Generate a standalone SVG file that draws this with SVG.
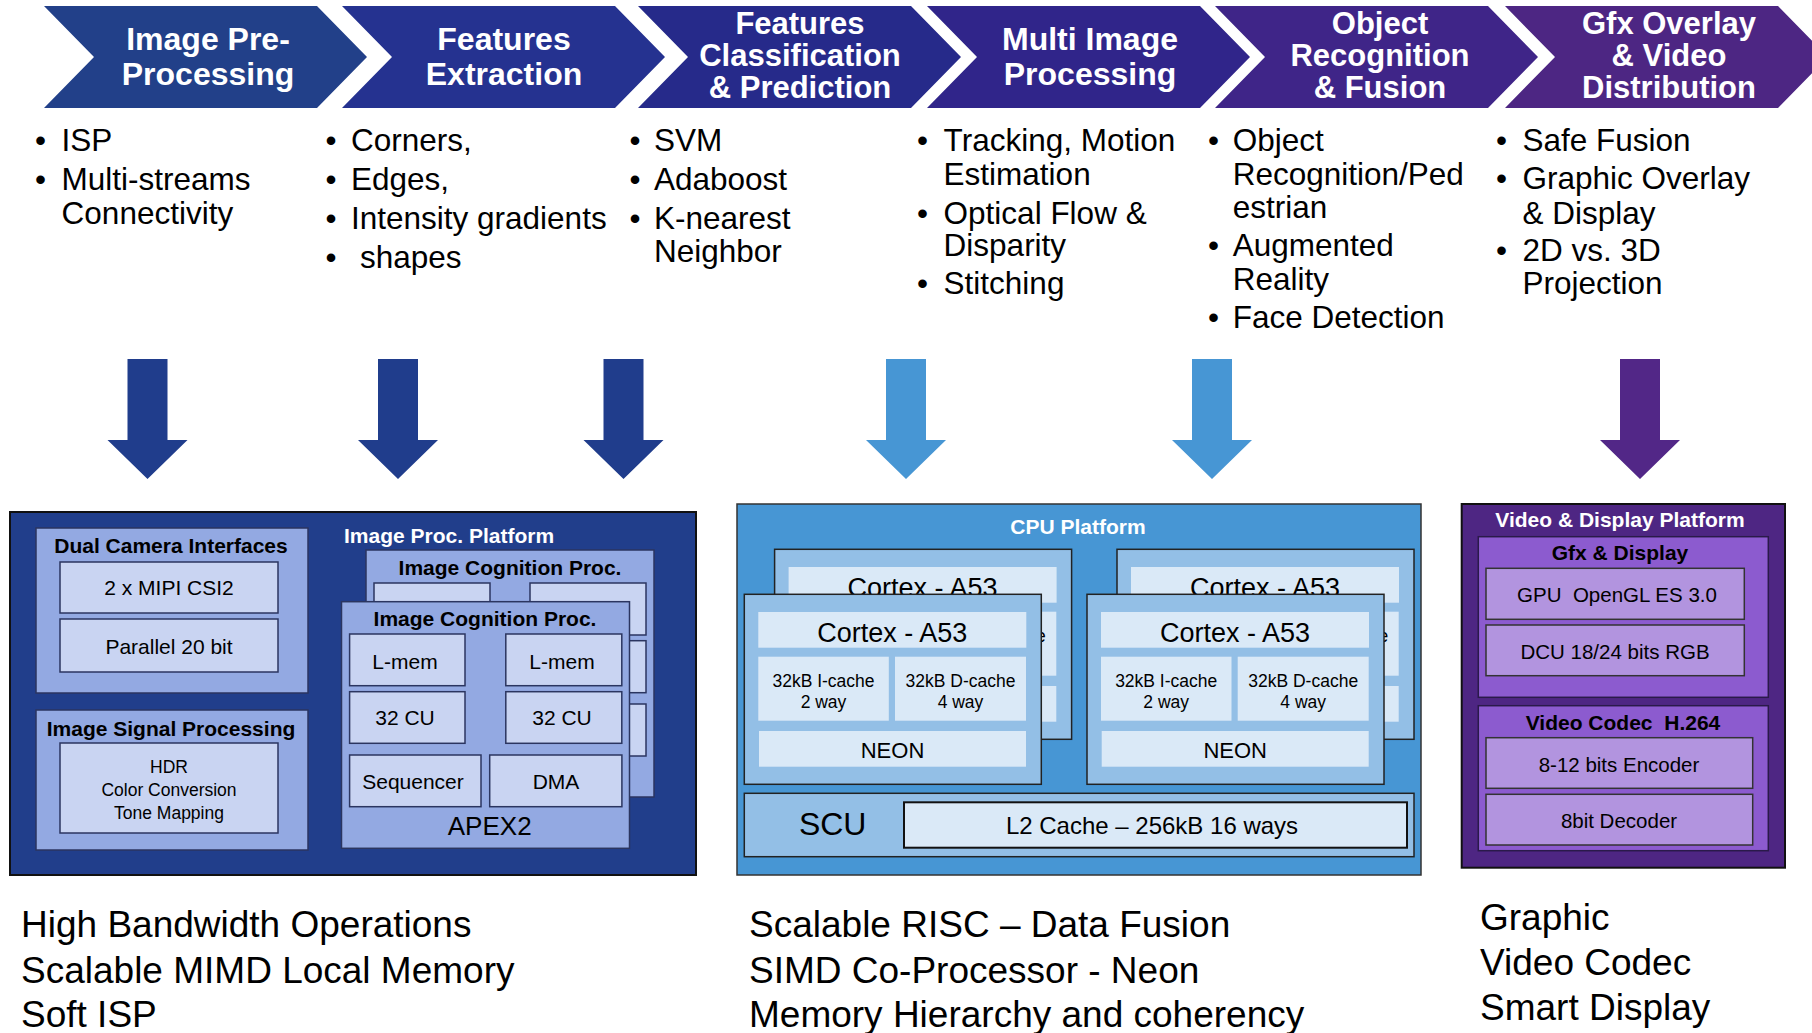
<svg xmlns="http://www.w3.org/2000/svg" width="1812" height="1033" viewBox="0 0 1812 1033">
<style>
text{font-family:"Liberation Sans",Arial,sans-serif;}
.ch{font-size:32px;font-weight:bold;fill:#fff;text-anchor:middle;}
.c3{font-size:31px;}
.bl{font-size:31.5px;fill:#000;}
.bt{font-size:37px;fill:#000;}
.wt{font-size:21px;font-weight:bold;fill:#fff;}
.tt{font-size:21px;font-weight:bold;fill:#000;text-anchor:middle;}
.it{font-size:21px;fill:#000;text-anchor:middle;white-space:pre;}
.sm{font-size:17.5px;fill:#000;text-anchor:middle;}
.pl1{fill:#213E8B;stroke:#111;stroke-width:2;}
.p1{fill:#93A9E2;stroke:#2B3560;stroke-width:1.5;}
.q1{fill:#C9D4F2;stroke:#2B3560;stroke-width:1.5;}
.pl2{fill:#4796D4;stroke:#333;stroke-width:1.5;}
.p2{fill:#93BFE6;stroke:#222;stroke-width:1.5;}
.q2{fill:#DAE9F7;}
.pl3{fill:#4E2683;stroke:#111;stroke-width:2;}
.p3{fill:#8C5BCF;stroke:#2A1A4A;stroke-width:1.5;}
.q3{fill:#B294DF;stroke:#333;stroke-width:1.5;}
</style>
<defs>
<clipPath id="clipBL"><path d="M774,549 H1072 V740 H774 Z M744,594 V785 H1041.3 V594 Z" clip-rule="evenodd"/></clipPath>
<clipPath id="clipBR"><path d="M1116,549 H1415 V740 H1116 Z M1087,594 V785 H1384 V594 Z" clip-rule="evenodd"/></clipPath>
</defs>

<g id="chevrons">
<g id="stage1"><polygon points="44,6 317,6 367,57 317,108 44,108 94,57" fill="#224089"/>
<text class="ch" x="208" y="50">Image Pre-</text><text class="ch" x="208" y="85">Processing</text></g>
<g id="stage2"><polygon points="342,6 615,6 665,57 615,108 342,108 392,57" fill="#253290"/>
<text class="ch" x="504" y="50">Features</text><text class="ch" x="504" y="85">Extraction</text></g>
<g id="stage3"><polygon points="638,6 911,6 961,57 911,108 638,108 688,57" fill="#262A8A"/>
<text class="ch c3" x="800" y="34">Features</text><text class="ch c3" x="800" y="66">Classification</text><text class="ch c3" x="800" y="98">&amp; Prediction</text></g>
<g id="stage4"><polygon points="927,6 1200,6 1250,57 1200,108 927,108 977,57" fill="#30258A"/>
<text class="ch" x="1090" y="50">Multi Image</text><text class="ch" x="1090" y="85">Processing</text></g>
<g id="stage5"><polygon points="1215,6 1488,6 1538,57 1488,108 1215,108 1265,57" fill="#3F2588"/>
<text class="ch c3" x="1380" y="34">Object</text><text class="ch c3" x="1380" y="66">Recognition</text><text class="ch c3" x="1380" y="98">&amp; Fusion</text></g>
<g id="stage6"><polygon points="1505,6 1778,6 1828,57 1778,108 1505,108 1555,57" fill="#4D2683"/>
<text class="ch c3" x="1669" y="34">Gfx Overlay</text><text class="ch c3" x="1669" y="66">&amp; Video</text><text class="ch c3" x="1669" y="98">Distribution</text></g>
</g>

<g id="bullets" class="bl">
<g id="b1">
<text class="bl" x="35" y="151">•</text><text class="bl" x="61.6" y="151">ISP</text>
<text class="bl" x="35" y="189.5">•</text><text class="bl" x="61.6" y="189.5">Multi-streams</text>
<text class="bl" x="61.6" y="223.7">Connectivity</text>
</g>
<g id="b2">
<text class="bl" x="325.5" y="151">•</text><text class="bl" x="351" y="151">Corners,</text>
<text class="bl" x="325.5" y="189.5">•</text><text class="bl" x="351" y="189.5">Edges,</text>
<text class="bl" x="325.5" y="228.5">•</text><text class="bl" x="351" y="228.5">Intensity gradients</text>
<text class="bl" x="325.5" y="267.5">•</text><text class="bl" x="360" y="267.5">shapes</text>
</g>
<g id="b3">
<text class="bl" x="629.5" y="151">•</text><text class="bl" x="654" y="151">SVM</text>
<text class="bl" x="629.5" y="189.5">•</text><text class="bl" x="654" y="189.5">Adaboost</text>
<text class="bl" x="629.5" y="228.5">•</text><text class="bl" x="654" y="228.5">K-nearest</text>
<text class="bl" x="654" y="262">Neighbor</text>
</g>
<g id="b4">
<text class="bl" x="917" y="151">•</text><text class="bl" x="943.6" y="151">Tracking, Motion</text>
<text class="bl" x="943.6" y="184.6">Estimation</text>
<text class="bl" x="917" y="223.9">•</text><text class="bl" x="943.6" y="223.9">Optical Flow &amp;</text>
<text class="bl" x="943.6" y="256.3">Disparity</text>
<text class="bl" x="917" y="294.4">•</text><text class="bl" x="943.6" y="294.4">Stitching</text>
</g>
<g id="b5">
<text class="bl" x="1208" y="151">•</text><text class="bl" x="1232.7" y="151">Object</text>
<text class="bl" x="1232.7" y="184.6">Recognition/Ped</text>
<text class="bl" x="1232.7" y="218.2">estrian</text>
<text class="bl" x="1208" y="256.3">•</text><text class="bl" x="1232.7" y="256.3">Augmented</text>
<text class="bl" x="1232.7" y="289.8">Reality</text>
<text class="bl" x="1208" y="328">•</text><text class="bl" x="1232.7" y="328">Face Detection</text>
</g>
<g id="b6">
<text class="bl" x="1496" y="151">•</text><text class="bl" x="1522.5" y="151">Safe Fusion</text>
<text class="bl" x="1496" y="189.3">•</text><text class="bl" x="1522.5" y="189.3">Graphic Overlay</text>
<text class="bl" x="1522.5" y="223.9">&amp; Display</text>
<text class="bl" x="1496" y="260.9">•</text><text class="bl" x="1522.5" y="260.9">2D vs. 3D</text>
<text class="bl" x="1522.5" y="294.4">Projection</text>
</g>
</g>

<g id="connectors">
<polygon points="127.5,359 167.5,359 167.5,440 187.5,440 147.5,479 107.5,440 127.5,440" fill="#203D8C"/>
<polygon points="378,359 418,359 418,440 438,440 398,479 358,440 378,440" fill="#203D8C"/>
<polygon points="603.5,359 643.5,359 643.5,440 663.5,440 623.5,479 583.5,440 603.5,440" fill="#203D8C"/>
<polygon points="886,359 926,359 926,440 946,440 906,479 866,440 886,440" fill="#4796D4"/>
<polygon points="1192,359 1232,359 1232,440 1252,440 1212,479 1172,440 1192,440" fill="#4796D4"/>
<polygon points="1620,359 1660,359 1660,440 1680,440 1640,479 1600,440 1620,440" fill="#522787"/>
</g>

<g id="image-proc-platform">
<rect class="pl1" x="10" y="512" width="686" height="363"/>
<g id="dual-camera">
<rect class="p1" x="36" y="528" width="272" height="165"/>
<text class="tt" x="171" y="552.5">Dual Camera Interfaces</text>
<rect class="q1" x="60" y="562" width="218" height="51"/>
<text class="it" x="169" y="595">2 x MIPI CSI2</text>
<rect class="q1" x="60" y="619" width="218" height="53"/>
<text class="it" x="169" y="654">Parallel 20 bit</text>
</g>
<g id="isp">
<rect class="p1" x="36" y="710" width="272" height="140"/>
<text class="tt" x="171" y="736">Image Signal Processing</text>
<rect class="q1" x="60" y="743" width="218" height="90"/>
<text class="sm" x="169" y="773">HDR</text>
<text class="sm" x="169" y="796">Color Conversion</text>
<text class="sm" x="169" y="819">Tone Mapping</text>
</g>
<text class="wt" x="344" y="543">Image Proc. Platform</text>
<g id="icp-back">
<rect class="p1" x="366" y="550" width="288" height="247"/>
<text class="tt" x="510" y="575">Image Cognition Proc.</text>
<rect class="q1" x="374" y="583" width="116" height="52"/>
<rect class="q1" x="530" y="583" width="116" height="52"/>
<rect class="q1" x="530" y="640.7" width="116" height="52"/>
<rect class="q1" x="514" y="704" width="132" height="52"/>
</g>
<g id="icp-front">
<rect class="p1" x="341.5" y="601.7" width="288" height="246.6"/>
<text class="tt" x="485" y="626">Image Cognition Proc.</text>
<rect class="q1" x="349.6" y="634" width="115.4" height="51.7"/>
<text class="it" x="405" y="669">L-mem</text>
<rect class="q1" x="505.8" y="634" width="116" height="51.7"/>
<text class="it" x="562" y="669">L-mem</text>
<rect class="q1" x="349.6" y="691.7" width="115.4" height="51.6"/>
<text class="it" x="405" y="725">32 CU</text>
<rect class="q1" x="505.8" y="691.7" width="116" height="51.6"/>
<text class="it" x="562" y="725">32 CU</text>
<rect class="q1" x="349.6" y="755" width="131.4" height="51.7"/>
<text class="it" x="413" y="788.5">Sequencer</text>
<rect class="q1" x="489.7" y="755" width="132.2" height="51.7"/>
<text class="it" x="556" y="788.5">DMA</text>
<text class="it" x="489.7" y="835" style="font-size:26px">APEX2</text>
</g>
</g>

<g id="cpu-platform">
<rect class="pl2" x="737" y="504" width="684" height="371"/>
<text class="wt" x="1078" y="534" text-anchor="middle">CPU Platform</text>
<g id="core-back-left">
<rect class="p2" x="774.6" y="549.3" width="297" height="190"/>
<rect class="q2" x="788.6" y="567" width="268" height="35.7"/>
<rect class="q2" x="788.6" y="611.7" width="130.5" height="64"/>
<rect class="q2" x="925.3" y="611.7" width="131" height="64"/>
<rect class="q2" x="789.3" y="686" width="267" height="35.7"/>
<g clip-path="url(#clipBL)">
<text class="it" x="922.6" y="596.7" style="font-size:27px">Cortex - A53</text>
<text class="sm" x="990.8" y="641.7">32kB D-cache</text>
</g>
</g>
<g id="core-back-right">
<rect class="p2" x="1117" y="549.3" width="297" height="190"/>
<rect class="q2" x="1131" y="567" width="268" height="35.7"/>
<rect class="q2" x="1131" y="611.7" width="130.5" height="64"/>
<rect class="q2" x="1267.7" y="611.7" width="131" height="64"/>
<rect class="q2" x="1131.7" y="686" width="267" height="35.7"/>
<g clip-path="url(#clipBR)">
<text class="it" x="1265" y="596.7" style="font-size:27px">Cortex - A53</text>
<text class="sm" x="1333.2" y="641.7">32kB D-cache</text>
</g>
</g>
<g id="core-front-left">
<rect class="p2" x="744.3" y="594.3" width="297" height="190"/>
<rect class="q2" x="758.3" y="612" width="268" height="35.7"/>
<text class="it" x="892.3" y="641.7" style="font-size:27px">Cortex - A53</text>
<rect class="q2" x="758.3" y="656.7" width="130.5" height="64"/>
<text class="sm" x="823.5" y="686.7">32kB I-cache</text>
<text class="sm" x="823.5" y="707.5">2 way</text>
<rect class="q2" x="895" y="656.7" width="131" height="64"/>
<text class="sm" x="960.5" y="686.7">32kB D-cache</text>
<text class="sm" x="960.5" y="707.5">4 way</text>
<rect class="q2" x="759" y="731" width="267" height="35.7"/>
<text class="it" x="892.5" y="757.5" style="font-size:22px">NEON</text>
</g>
<g id="core-front-right">
<rect class="p2" x="1087" y="594.3" width="297" height="190"/>
<rect class="q2" x="1101" y="612" width="268" height="35.7"/>
<text class="it" x="1235" y="641.7" style="font-size:27px">Cortex - A53</text>
<rect class="q2" x="1101" y="656.7" width="130.5" height="64"/>
<text class="sm" x="1166.2" y="686.7">32kB I-cache</text>
<text class="sm" x="1166.2" y="707.5">2 way</text>
<rect class="q2" x="1237.7" y="656.7" width="131" height="64"/>
<text class="sm" x="1303.2" y="686.7">32kB D-cache</text>
<text class="sm" x="1303.2" y="707.5">4 way</text>
<rect class="q2" x="1101.7" y="731" width="267" height="35.7"/>
<text class="it" x="1235.2" y="757.5" style="font-size:22px">NEON</text>
</g>
<g id="scu">
<rect class="p2" x="744.3" y="793.3" width="669.7" height="63.4"/>
<text class="it" x="832.7" y="835" style="font-size:32px">SCU</text>
<rect class="q2" x="904" y="802.3" width="503" height="45.4" stroke="#111" stroke-width="2"/>
<text class="it" x="1152" y="834" style="font-size:24px">L2 Cache – 256kB 16 ways</text>
</g>
</g>

<g id="video-display-platform">
<rect class="pl3" x="1461.7" y="504" width="323.3" height="363.7"/>
<text class="wt" x="1620" y="527" text-anchor="middle">Video &amp; Display Platform</text>
<g id="gfx-display">
<rect class="p3" x="1478.3" y="536.7" width="290" height="160.6"/>
<text class="tt" x="1620" y="560">Gfx &amp; Display</text>
<rect class="q3" x="1486" y="568.3" width="258.3" height="51"/>
<text class="it" x="1617" y="602" style="font-size:20.5px">GPU  OpenGL ES 3.0</text>
<rect class="q3" x="1486" y="625" width="258.3" height="50.7"/>
<text class="it" x="1615" y="659" style="font-size:20.5px">DCU 18/24 bits RGB</text>
</g>
<g id="video-codec">
<rect class="p3" x="1478.3" y="705.7" width="290" height="145"/>
<text class="tt" x="1623" y="730" style="white-space:pre">Video Codec  H.264</text>
<rect class="q3" x="1486" y="737.7" width="266.7" height="50.6"/>
<text class="it" x="1619" y="772" style="font-size:20.5px">8-12 bits Encoder</text>
<rect class="q3" x="1486" y="794.3" width="266.7" height="50.7"/>
<text class="it" x="1619" y="828" style="font-size:20.5px">8bit Decoder</text>
</g>
</g>

<g id="summaries">
<text class="bt" x="21" y="937">High Bandwidth Operations</text>
<text class="bt" x="21" y="982.5">Scalable MIMD Local Memory</text>
<text class="bt" x="21" y="1027">Soft ISP</text>
<text class="bt" x="749" y="937">Scalable RISC – Data Fusion</text>
<text class="bt" x="749" y="982.5">SIMD Co-Processor - Neon</text>
<text class="bt" x="749" y="1027">Memory Hierarchy and coherency</text>
<text class="bt" x="1480" y="929.5">Graphic</text>
<text class="bt" x="1480" y="974.5">Video Codec</text>
<text class="bt" x="1480" y="1019.5">Smart Display</text>
</g>
</svg>
